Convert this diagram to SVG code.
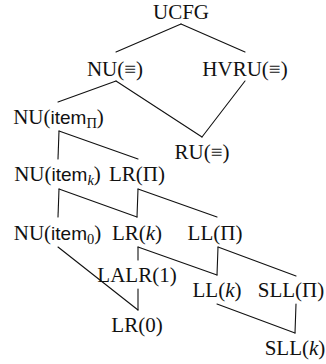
<svg xmlns="http://www.w3.org/2000/svg" width="326" height="364" viewBox="0 0 326 364">
<style>
text{font-family:"Liberation Serif","DejaVu Serif",serif;font-size:21px;fill:#111;text-anchor:middle}
.sf{font-family:"Liberation Sans","DejaVu Sans",sans-serif;font-size:19px}
.sub{font-size:14.5px}
.it{font-style:italic}
#edges line{stroke:#111;stroke-width:1.1;fill:none;stroke-linecap:round}
</style>
<rect width="326" height="364" fill="#fff"/>
<g id="edges">
<line x1="181" y1="24" x2="116" y2="52"/>
<line x1="181" y1="24" x2="245" y2="52"/>
<line x1="116" y1="81" x2="58" y2="102"/>
<line x1="116" y1="81" x2="202" y2="137"/>
<line x1="245" y1="81" x2="202" y2="137"/>
<line x1="59" y1="131" x2="58" y2="159"/>
<line x1="59" y1="131" x2="138" y2="159"/>
<line x1="59" y1="189" x2="58" y2="217"/>
<line x1="59" y1="189" x2="137" y2="217"/>
<line x1="138" y1="189" x2="137" y2="217"/>
<line x1="138" y1="189" x2="217" y2="217"/>
<line x1="58" y1="247" x2="138" y2="310"/>
<line x1="138" y1="247" x2="138" y2="260"/>
<line x1="138" y1="247" x2="217" y2="275"/>
<line x1="138" y1="289" x2="138" y2="310"/>
<line x1="218" y1="247" x2="217" y2="275"/>
<line x1="218" y1="247" x2="296" y2="276"/>
<line x1="217" y1="304" x2="295" y2="333"/>
<line x1="296" y1="304" x2="295" y2="333"/>
</g>
<g id="ucfg"><text x="181" y="19">UCFG</text></g>
<g id="nu-equiv"><text x="115" y="76">NU(≡)</text></g>
<g id="hvru-equiv"><text x="245" y="76">HVRU(≡)</text></g>
<g id="nu-item-pi"><text x="58.5" y="124">NU(<tspan class="sf">item</tspan><tspan class="sub" dy="4">Π</tspan><tspan dy="-4">)</tspan></text></g>
<g id="ru-equiv"><text x="202" y="159">RU(≡)</text></g>
<g id="nu-item-k"><text x="57.5" y="181">NU(<tspan class="sf">item</tspan><tspan class="sub it" dy="4">k</tspan><tspan dy="-4">)</tspan></text></g>
<g id="lr-pi"><text x="137" y="181">LR(Π)</text></g>
<g id="nu-item-0"><text x="57.5" y="240">NU(<tspan class="sf">item</tspan><tspan class="sub" dy="4">0</tspan><tspan dy="-4">)</tspan></text></g>
<g id="lr-k"><text x="137" y="240">LR(<tspan class="it">k</tspan>)</text></g>
<g id="ll-pi"><text x="215" y="240">LL(Π)</text></g>
<g id="lalr-1"><text x="137" y="282">LALR(1)</text></g>
<g id="ll-k"><text x="217" y="297">LL(<tspan class="it">k</tspan>)</text></g>
<g id="sll-pi"><text x="291" y="297">SLL(Π)</text></g>
<g id="lr-0"><text x="137" y="332">LR(0)</text></g>
<g id="sll-k"><text x="295" y="355">SLL(<tspan class="it">k</tspan>)</text></g>
</svg>
